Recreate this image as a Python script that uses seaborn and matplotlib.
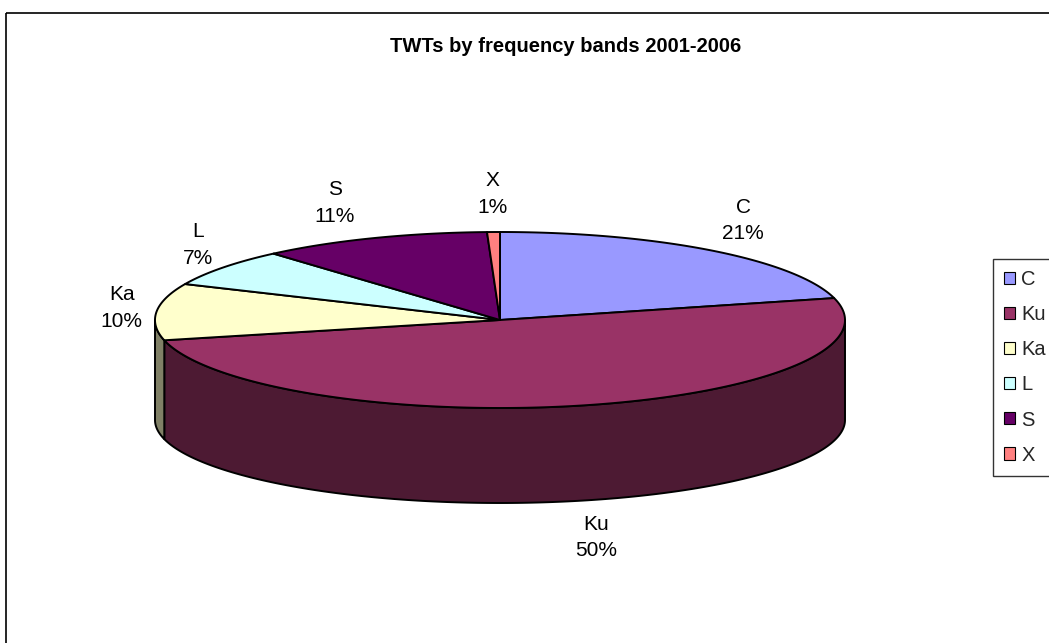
import numpy as np
import matplotlib
matplotlib.use("Agg")
import matplotlib.pyplot as plt
from matplotlib.patches import Polygon, Rectangle, Patch
import seaborn as sns

# data (share of TWTs per band)
bands = ['C', 'Ku', 'Ka', 'L', 'S', 'X']
shares = [21.0, 50.3, 10.4, 6.9, 10.8, 0.6]
colors = ['#9999FF', '#993366', '#FFFFCC', '#CCFFFF', '#660066', '#FF8080']
label_nudge = [-2, 0, 20, 19, -18, 0]   # excel moves a few labels sideways
title = 'TWTs by frequency bands 2001-2006'

sns.set_theme(style='white')
plt.rcParams['font.family'] = ['Liberation Sans', 'DejaVu Sans']

W, H = 1049, 643
fig = plt.figure(figsize=(W / 100, H / 100), dpi=100)
ax = fig.add_axes([0, 0, 1, 1])
ax.set_xlim(0, W)
ax.set_ylim(H, 0)
ax.axis('off')

# pie geometry in pixels
cx, cy = 500, 320
a, b = 345, 88          # top ellipse
cy2, b2 = 420, 83       # bottom ellipse (a bit of perspective)


def top_pt(t):
    return cx + a * np.sin(t), cy - b * np.cos(t)


def bot_pt(t):
    return cx + a * np.sin(t), cy2 - b2 * np.cos(t)


def darker(c, f=0.5):
    r, g, bb = matplotlib.colors.to_rgb(c)
    return (r * f, g * f, bb * f)


vals = np.array(shares)
frac = vals / vals.sum()
bounds = np.concatenate([[0], np.cumsum(frac)]) * 2 * np.pi
lw = 1.4

# side walls (front half only: angles pi/2 .. 3pi/2 clockwise from top)
for i in range(len(bands)):
    t1 = max(bounds[i], np.pi / 2)
    t2 = min(bounds[i + 1], 3 * np.pi / 2)
    if t2 <= t1:
        continue
    ts = np.linspace(t1, t2, 200)
    xs_t, ys_t = top_pt(ts)
    xs_b, ys_b = bot_pt(ts[::-1])
    poly = np.column_stack([np.concatenate([xs_t, xs_b]),
                            np.concatenate([ys_t, ys_b])])
    ax.add_patch(Polygon(poly, closed=True, facecolor=darker(colors[i]),
                         edgecolor='black', lw=lw, joinstyle='round'))

# top faces
for i in range(len(bands)):
    ts = np.linspace(bounds[i], bounds[i + 1], 300)
    xs, ys = top_pt(ts)
    poly = np.column_stack([np.concatenate([[cx], xs]),
                            np.concatenate([[cy], ys])])
    ax.add_patch(Polygon(poly, closed=True, facecolor=colors[i],
                         edgecolor='black', lw=lw, joinstyle='round'))

# data labels
for i, band in enumerate(bands):
    tm = (bounds[i] + bounds[i + 1]) / 2
    lx = cx + 400 * np.sin(tm) + label_nudge[i]
    ly = cy - 126 * np.cos(tm)
    if np.cos(tm) < 0:
        ly += 95
    pct = int(round(frac[i] * 100))
    ax.text(lx, ly, f'{band}\n{pct}%', ha='center', va='center',
            fontsize=15, linespacing=1.5, color='black')

ax.text(566, 47, title, ha='center', va='center', fontsize=14.5,
        fontweight='bold', color='black')

# chart area frame (right and bottom edges fall outside the picture)
ax.add_patch(Rectangle((5.5, 12.5), 1200, 800, fill=False,
                       edgecolor='black', lw=1.2, clip_on=False))

handles = [Patch(facecolor=c, edgecolor='black', lw=0.8) for c in colors]
leg = ax.legend(handles, bands, loc='upper left',
                bbox_to_anchor=(993 / W, 1 - 259 / H),
                bbox_transform=fig.transFigure, borderaxespad=0,
                frameon=True, fancybox=False, edgecolor='black',
                fontsize=14.5, handlelength=0.55, handleheight=0.55,
                handletextpad=0.3, labelspacing=0.8, borderpad=0.55)
leg.get_frame().set_linewidth(1.0)

fig.savefig('out.png', dpi=100, facecolor='white')
